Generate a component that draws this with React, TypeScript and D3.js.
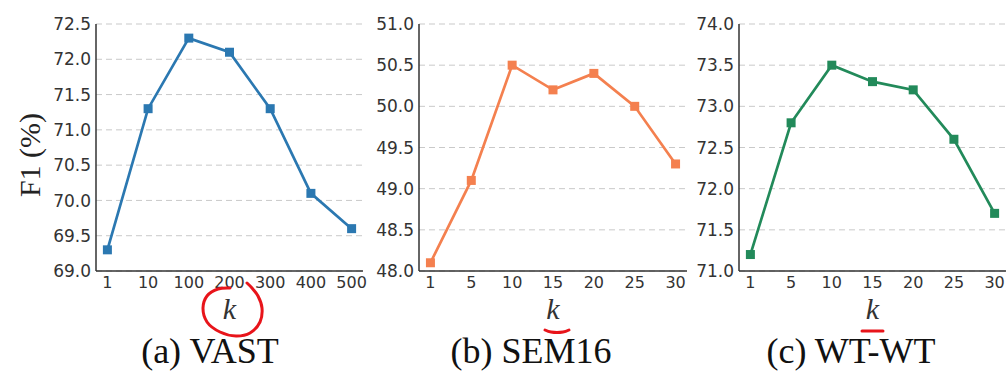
import * as d3 from "d3";

const W = 1007;
const H = 371;

// k values and F1 scores for each dataset
const vastK = ["1", "10", "100", "200", "300", "400", "500"];
const vastF1 = [69.3, 71.3, 72.3, 72.1, 71.3, 70.1, 69.6];
const vastTicks = [69.0, 69.5, 70.0, 70.5, 71.0, 71.5, 72.0, 72.5];

const semK = ["1", "5", "10", "15", "20", "25", "30"];
const semF1 = [48.1, 49.1, 50.5, 50.2, 50.4, 50.0, 49.3];
const semTicks = [48.0, 48.5, 49.0, 49.5, 50.0, 50.5, 51.0];

const wtK = ["1", "5", "10", "15", "20", "25", "30"];
const wtF1 = [71.2, 72.8, 73.5, 73.3, 73.2, 72.6, 71.7];
const wtTicks = [71.0, 71.5, 72.0, 72.5, 73.0, 73.5, 74.0];

const captions = ["(a) VAST", "(b) SEM16", "(c) WT-WT"];

const panels = [
  { k: vastK, f1: vastF1, ticks: vastTicks, color: "#2b78b1", left: 96, right: 363, cap: captions[0], capX: 210 },
  { k: semK, f1: semF1, ticks: semTicks, color: "#f4804f", left: 419, right: 687, cap: captions[1], capX: 531 },
  { k: wtK, f1: wtF1, ticks: wtTicks, color: "#228a5a", left: 739, right: 1006, cap: captions[2], capX: 851 },
];

const TOP = 24;
const BOTTOM = 271;

// red pen marks drawn over the figure
const circleMark: [number, number][] = [
  [247, 283], [252, 288], [258, 296], [262, 308], [260, 322], [250, 333],
  [236, 336], [220, 332], [207, 322], [203, 308], [207, 296], [218, 289], [230, 288],
];
const underlines: [number, number][][] = [
  [[545, 330], [551, 332], [563, 332], [569, 330]],
  [[862, 331], [883, 331]],
];

const Panel = ({ p }: { p: (typeof panels)[number] }) => {
  const x = d3.scalePoint<string>().domain(p.k).range([p.left, p.right]).padding(0.28);
  const y = d3
    .scaleLinear()
    .domain([p.ticks[0], p.ticks[p.ticks.length - 1]])
    .range([BOTTOM, TOP]);
  const line = d3
    .line<number>()
    .x((_, i) => x(p.k[i]) as number)
    .y((d) => y(d));
  const kx = ((x(p.k[0]) as number) + (x(p.k[p.k.length - 1]) as number)) / 2;

  return (
    <g>
      {p.ticks.map((t) => (
        <line
          key={"g" + t}
          x1={p.left}
          x2={p.right}
          y1={y(t)}
          y2={y(t)}
          stroke="#c9c9c9"
          strokeWidth={1}
          strokeDasharray="6,4"
        />
      ))}
      <line x1={p.left} x2={p.left} y1={TOP} y2={BOTTOM} stroke="#333" strokeWidth={1.5} />
      <line x1={p.left} x2={p.right} y1={BOTTOM} y2={BOTTOM} stroke="#333" strokeWidth={1.5} />
      {p.ticks.map((t) => (
        <text
          key={"t" + t}
          x={p.left - 5}
          y={y(t)}
          dy="0.36em"
          textAnchor="end"
          fontFamily="DejaVu Sans"
          fontSize={17}
          fill="#333"
        >
          {t.toFixed(1)}
        </text>
      ))}
      {p.k.map((k) => (
        <text
          key={"x" + k}
          x={x(k)}
          y={BOTTOM + 17}
          textAnchor="middle"
          fontFamily="DejaVu Sans"
          fontSize={16}
          fill="#333"
        >
          {k}
        </text>
      ))}
      <path d={line(p.f1) || ""} fill="none" stroke={p.color} strokeWidth={2.7} />
      {p.f1.map((v, i) => (
        <rect
          key={"m" + i}
          x={(x(p.k[i]) as number) - 4.5}
          y={y(v) - 4.5}
          width={9}
          height={9}
          fill={p.color}
        />
      ))}
      <text
        x={kx}
        y={319}
        textAnchor="middle"
        fontFamily="Liberation Serif"
        fontStyle="italic"
        fontSize={30}
        fill="#333"
      >
        k
      </text>
      <text
        x={p.capX}
        y={363}
        textAnchor="middle"
        fontFamily="Liberation Serif"
        fontSize={36}
        fill="#111"
      >
        {p.cap}
      </text>
    </g>
  );
};

export default function App() {
  const pen = d3.line().curve(d3.curveCatmullRom);
  return (
    <svg
      width={W}
      height={H}
      style={{ position: "absolute", left: 0, top: 0, background: "#fff" }}
    >
      <rect width={W} height={H} fill="#fff" />
      {panels.map((p, i) => (
        <Panel key={i} p={p} />
      ))}
      <text
        transform="translate(40,155) rotate(-90)"
        textAnchor="middle"
        fontFamily="Liberation Serif"
        fontSize={30}
        fill="#222"
      >
        F1 (%)
      </text>
      <path d={pen(circleMark) || ""} fill="none" stroke="#e8141a" strokeWidth={3} strokeLinecap="round" />
      {underlines.map((u, i) => (
        <path key={i} d={pen(u) || ""} fill="none" stroke="#e8141a" strokeWidth={3} strokeLinecap="round" />
      ))}
    </svg>
  );
}
